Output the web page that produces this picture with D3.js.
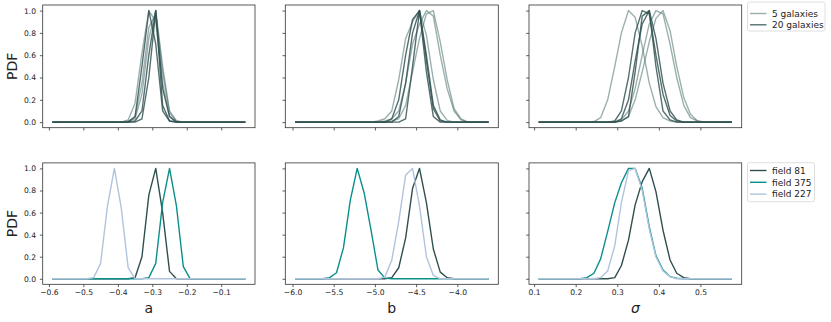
<!DOCTYPE html>
<html><head><meta charset="utf-8">
<script src="https://cdn.jsdelivr.net/npm/d3@7"></script>
<style>body{margin:0;background:#fff}svg{display:block}text{font-family:"DejaVu Sans",sans-serif;fill:#222}</style>
</head><body><svg id="c" width="831" height="322"></svg>
<script>
// ---- grids (x values of the evaluated PDFs) ----
const aGrid = [-0.59,-0.57,-0.55,-0.53,-0.51,-0.49,-0.47,-0.45,-0.43,-0.41,-0.39,-0.37,-0.35,-0.33,-0.31,-0.29,-0.27,-0.25,-0.23,-0.21,-0.19,-0.17,-0.15,-0.13,-0.11,-0.09,-0.07,-0.05,-0.03];
const bGrid = [-5.970,-5.886,-5.802,-5.718,-5.634,-5.550,-5.466,-5.382,-5.299,-5.215,-5.131,-5.047,-4.963,-4.879,-4.795,-4.711,-4.627,-4.543,-4.459,-4.375,-4.291,-4.207,-4.123,-4.039,-3.955,-3.871,-3.788,-3.704,-3.620];
const sGrid = [0.111,0.128,0.144,0.161,0.177,0.194,0.211,0.227,0.244,0.260,0.277,0.294,0.310,0.327,0.343,0.360,0.377,0.393,0.410,0.427,0.443,0.460,0.476,0.493,0.510,0.526,0.543,0.559,0.576];

// ---- top row: 5 galaxies (light) and 20 galaxies (dark) realisations ----
const a5 = [
 [0,0,0,0,0,0,0,0,0,0,0,0.02,0.17,0.62,1.0,0.9,0.35,0.05,0,0,0,0,0,0,0,0,0,0,0],
 [0,0,0,0,0,0,0,0,0,0,0,0,0.05,0.35,0.85,0.97,0.45,0.08,0.01,0,0,0,0,0,0,0,0,0,0],
 [0,0,0,0,0,0,0,0,0,0,0,0.01,0.03,0.25,0.75,1.0,0.5,0.1,0.01,0,0,0,0,0,0,0,0,0,0]
];
const a20 = [
 [0,0,0,0,0,0,0,0,0,0,0,0,0.05,0.5,1.0,0.7,0.1,0.01,0,0,0,0,0,0,0,0,0,0,0],
 [0,0,0,0,0,0,0,0,0,0,0,0,0,0.03,0.4,1.0,0.15,0.01,0,0,0,0,0,0,0,0,0,0,0],
 [0,0,0,0,0,0,0,0,0,0,0,0,0.01,0.1,0.6,1.0,0.3,0.05,0,0,0,0,0,0,0,0,0,0,0]
];
const b5 = [
 [0,0,0,0,0,0,0,0,0,0,0,0,0.01,0.03,0.1,0.38,0.75,0.9,1.0,0.78,0.38,0.1,0.015,0,0,0,0,0,0],
 [0,0,0,0,0,0,0,0,0,0,0,0,0,0.01,0.03,0.1,0.35,0.7,0.88,1.0,0.95,0.6,0.3,0.1,0.02,0,0,0,0],
 [0,0,0,0,0,0,0,0,0,0,0,0,0,0,0.01,0.03,0.15,0.45,0.75,0.97,1.0,0.72,0.38,0.12,0.03,0,0,0,0]
];
const b20 = [
 [0,0,0,0,0,0,0,0,0,0,0,0,0,0,0,0,0.03,0.5,1.0,0.45,0.05,0,0,0,0,0,0,0,0],
 [0,0,0,0,0,0,0,0,0,0,0,0,0,0,0,0.05,0.35,0.8,1.0,0.55,0.12,0.01,0,0,0,0,0,0,0],
 [0,0,0,0,0,0,0,0,0,0,0,0,0,0,0.03,0.2,0.6,0.92,1.0,0.6,0.15,0.02,0,0,0,0,0,0,0]
];
const s5 = [
 [0,0,0,0,0,0,0,0,0.005,0.04,0.2,0.5,0.8,1.0,0.94,0.68,0.35,0.14,0.04,0.01,0,0,0,0,0,0,0,0,0],
 [0,0,0,0,0,0,0,0,0,0,0,0,0.02,0.1,0.3,0.6,0.88,1.0,0.97,0.7,0.4,0.15,0.04,0.01,0,0,0,0,0],
 [0,0,0,0,0,0,0,0,0,0,0,0,0.01,0.05,0.2,0.45,0.72,0.93,1.0,0.82,0.5,0.22,0.07,0.01,0,0,0,0,0]
];
const s20 = [
 [0,0,0,0,0,0,0,0,0,0,0,0,0.01,0.05,0.45,0.95,1.0,0.5,0.1,0.02,0,0,0,0,0,0,0,0,0],
 [0,0,0,0,0,0,0,0,0,0,0,0.01,0.1,0.4,0.8,1.0,0.97,0.6,0.25,0.06,0.01,0,0,0,0,0,0,0,0],
 [0,0,0,0,0,0,0,0,0,0,0,0,0.03,0.2,0.55,0.88,1.0,0.75,0.35,0.1,0.02,0,0,0,0,0,0,0,0]
];

// ---- bottom row: individual fields ----
const fieldNames = ["field 81","field 375","field 227"];
const aField81  = [0,0,0,0,0,0,0,0,0,0,0,0,0.01,0.2,0.76,1.0,0.6,0.067,0,0,0,0,0,0,0,0,0,0,0];
const aField375 = [0,0,0,0,0,0,0,0,0,0,0,0,0,0,0.01,0.14,0.69,1.0,0.66,0.11,0,0,0,0,0,0,0,0,0];
const aField227 = [0,0,0,0,0,0,0.01,0.14,0.66,1.0,0.64,0.1,0,0,0,0,0,0,0,0,0,0,0,0,0,0,0,0,0];
const bField81  = [0,0,0,0,0,0,0,0,0,0,0,0,0,0,0.01,0.1,0.37,0.82,1.0,0.69,0.27,0.06,0.01,0,0,0,0,0,0];
const bField375 = [0,0,0,0,0,0.01,0.055,0.28,0.71,1.0,0.78,0.44,0.08,0.006,0,0,0,0,0,0,0,0,0,0,0,0,0,0,0];
const bField227 = [0,0,0,0,0,0,0,0,0,0,0,0,0,0.015,0.17,0.52,0.94,1.0,0.66,0.2,0.03,0,0,0,0,0,0,0,0];
const sField81  = [0,0,0,0,0,0,0,0,0,0,0,0.01,0.12,0.35,0.67,0.88,1.0,0.79,0.44,0.17,0.05,0.01,0,0,0,0,0,0,0];
const sField375 = [0,0,0,0,0,0,0,0.01,0.05,0.18,0.43,0.69,0.87,1.0,1.0,0.82,0.47,0.21,0.08,0.02,0.005,0,0,0,0,0,0,0,0];
const sField227 = [0,0,0,0,0,0,0,0,0,0.01,0.07,0.3,0.69,0.98,1.0,0.8,0.45,0.2,0.07,0.02,0,0,0,0,0,0,0,0,0];

// ---- axes labels / ticks ----
const xLabels = ["a","b","σ"];
const aTicks = [-0.6,-0.5,-0.4,-0.3,-0.2,-0.1];
const bTicks = [-6.0,-5.5,-5.0,-4.5,-4.0];
const sTicks = [0.1,0.2,0.3,0.4,0.5];
const yTicks = [0.0,0.2,0.4,0.6,0.8,1.0];
const topLegend = ["5 galaxies","20 galaxies"];

// ---- styles ----
const C5 = {stroke:"#48706b", op:0.55};
const C20 = {stroke:"#2f4f4f", op:0.82};
const fieldColors = ["#2f4f4f","#0a8f8c","#b0c4de"];

const svg = d3.select("#c");
const colX = [[42.7,255],[285.3,498.3],[529,741.7]];
const rowY = [[5,127.7],[162.9,284.3]];
const grids = [aGrid,bGrid,sGrid];
const ticks = [aTicks,bTicks,sTicks];
const fmt = v => d3.format(".1f")(v).replace("-","\u2212");

const topData = [[a5,a20],[b5,b20],[s5,s20]];
const botData = [[aField81,aField375,aField227],[bField81,bField375,bField227],[sField81,sField375,sField227]];

for (let r=0;r<2;r++){
 for (let c=0;c<3;c++){
  const g = grids[c];
  const lo = d3.min(g), hi = d3.max(g), m = (hi-lo)*0.05;
  const x = d3.scaleLinear().domain([lo-m,hi+m]).range(colX[c]);
  const y = d3.scaleLinear().domain([-0.05,1.05]).range([rowY[r][1],rowY[r][0]]);
  const gp = svg.append("g");
  const line = d3.line().x((d,i)=>x(g[i])).y(d=>y(d));
  const clipId = `clip${r}${c}`;
  svg.append("clipPath").attr("id",clipId).append("rect")
    .attr("x",colX[c][0]).attr("y",rowY[r][0]).attr("width",colX[c][1]-colX[c][0]).attr("height",rowY[r][1]-rowY[r][0]);
  const lg = gp.append("g").attr("clip-path",`url(#${clipId})`);
  if (r===0){
    const [s5x,s20x] = topData[c];
    const items = [];
    s5x.forEach(v=>items.push({v,st:C5}));
    s20x.forEach(v=>items.push({v,st:C20}));
    // interleave draw order: light then dark
    items.forEach(it=>{
      lg.append("path").attr("d",line(it.v)).attr("fill","none")
        .attr("stroke",it.st.stroke).attr("stroke-opacity",it.st.op).attr("stroke-width",1.4)
        .attr("stroke-linejoin","round");
    });
  } else {
    botData[c].forEach((v,i)=>{
      lg.append("path").attr("d",line(v)).attr("fill","none")
        .attr("stroke",fieldColors[i]).attr("stroke-width",1.4).attr("stroke-linejoin","round");
    });
  }
  // x axis
  const xa = d3.axisBottom(x).tickValues(ticks[c]).tickSize(2.8).tickPadding(2.6)
     .tickFormat(r===1?fmt:()=> "");
  const gx = gp.append("g").attr("transform",`translate(0,${rowY[r][1]})`).call(xa);
  gx.select(".domain").remove();
  gx.selectAll("line").attr("stroke","#333").attr("stroke-width",0.8);
  gx.selectAll("text").attr("font-size","7.6px").attr("fill","#222").attr("font-family","DejaVu Sans");
  const ya = d3.axisLeft(y).tickValues(yTicks).tickSize(2.8).tickPadding(3.8)
     .tickFormat(c===0?fmt:()=> "");
  const gy = gp.append("g").attr("transform",`translate(${colX[c][0]},0)`).call(ya);
  gy.select(".domain").remove();
  gy.selectAll("line").attr("stroke","#333").attr("stroke-width",0.8);
  gy.selectAll("text").attr("font-size","7.6px").attr("fill","#222").attr("font-family","DejaVu Sans");
  // frame
  gp.append("rect").attr("x",colX[c][0]).attr("y",rowY[r][0])
    .attr("width",colX[c][1]-colX[c][0]).attr("height",rowY[r][1]-rowY[r][0])
    .attr("fill","none").attr("stroke","#333").attr("stroke-width",0.8);
  if (c===0){
    const cy = (rowY[r][0]+rowY[r][1])/2;
    svg.append("text").attr("transform",`translate(16.5,${cy}) rotate(-90)`)
      .attr("text-anchor","middle").attr("font-size","14px").text("PDF");
  }
  if (r===1){
    svg.append("text").attr("x",(colX[c][0]+colX[c][1])/2).attr("y",313)
      .attr("text-anchor","middle").attr("font-size","14px")
      .attr("font-style",c===2?"italic":"normal").text(xLabels[c]);
  }
 }
}

// legends
function legend(x0,y0,w,h,rows){
  const g = svg.append("g");
  g.append("rect").attr("x",x0).attr("y",y0).attr("width",w).attr("height",h).attr("rx",2)
   .attr("fill","#fff").attr("stroke","#d6d6d6").attr("stroke-width",0.8);
  rows.forEach(rw=>{
    g.append("line").attr("x1",750).attr("x2",766.5).attr("y1",rw.y).attr("y2",rw.y)
     .attr("stroke",rw.stroke).attr("stroke-opacity",rw.op).attr("stroke-width",1.4);
    g.append("text").attr("x",772).attr("y",rw.y+3.2).attr("font-size","9px").text(rw.label);
  });
}
legend(747.5,2,77.5,29,[
  {y:13.5,stroke:C5.stroke,op:C5.op,label:topLegend[0]},
  {y:24.8,stroke:C20.stroke,op:C20.op,label:topLegend[1]}]);
legend(747.5,162.7,67,39,fieldNames.map((n,i)=>({y:170.5+i*11.8,stroke:fieldColors[i],op:1,label:n})));
</script></body></html>
